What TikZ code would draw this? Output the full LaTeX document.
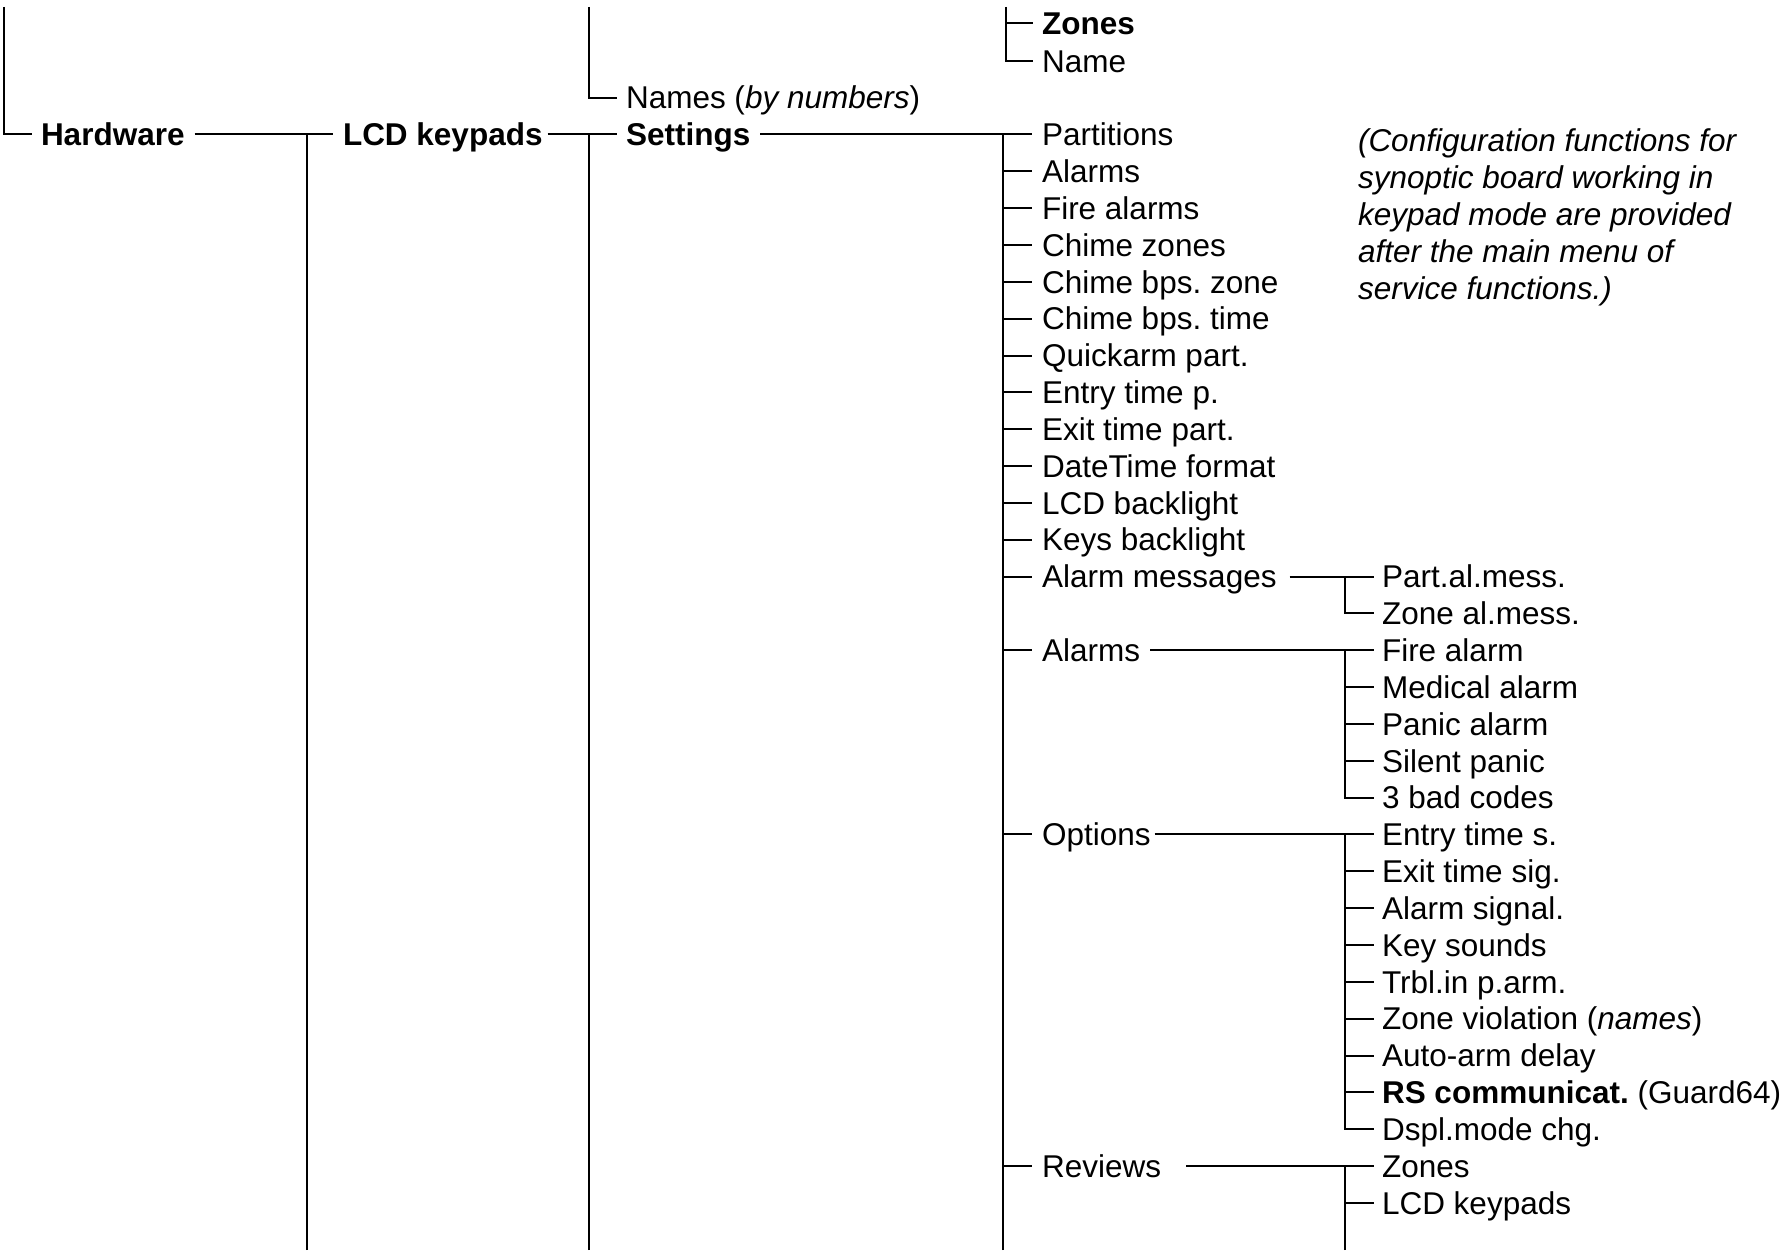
\documentclass[tikz,border=0pt]{standalone}
\usepackage{fontspec}
\setmainfont{Liberation Sans}
\frenchspacing
\begin{document}
\begin{tikzpicture}[x=1pt,y=-1pt,
  lbl/.style={anchor=west,inner sep=0pt,outer sep=0pt,text height=22.5pt,text depth=0pt,font=\fontsize{31.5}{36.84}\selectfont},
  blbl/.style={lbl,font=\fontsize{31.5}{36.84}\selectfont\bfseries},
  nlbl/.style={lbl,font=\fontsize{31.5}{36.84}\selectfont\itshape},
  br/.style={line width=2pt,line join=miter}
]
\useasboundingbox (0,0) rectangle (1791,1252);

% main chain
\node[blbl] (hw) at (41,134.5) {Hardware};
\node[blbl] (lcd) at (343,134.5) {LCD keypads};
\node[blbl] (set) at (626,134.5) {Settings};
\node[lbl] (names) at (626,97.66) {Names (\textit{by numbers})};
\node[blbl] (zones) at (1042,23) {Zones};
\node[lbl] (zname) at (1042,60.8) {Name};

\coordinate (s0) at (3.5,7);
\coordinate (s1) at (307,1250);
\coordinate (s2) at (589,1250);
\coordinate (s2t) at (589,7);
\coordinate (zt) at (1006,7);
\coordinate (s3) at (1003,1250);
\coordinate (s4) at (1345,1250);

\draw[br] (s0) |- ([xshift=-9pt]hw.west);
\draw[br] ([xshift=10pt]hw.east) -- ([xshift=-10pt]lcd.west);
\draw[br] (s1) -- (s1 |- lcd.west);
\draw[br] ([xshift=5pt]lcd.east) -- ([xshift=-9pt]set.west);
\draw[br] (s2) -- (s2 |- set.west);
\draw[br] (s2t) |- ([xshift=-9pt]names.west);
\draw[br] (zt) |- ([xshift=-9pt]zname.west);
\draw[br] (zt |- zones.west) -- ([xshift=-9pt]zones.west);

% Settings children
\foreach \r/\t in {0/Partitions,1/Alarms,2/Fire alarms,3/Chime zones,4/Chime bps. zone,5/Chime bps. time,6/Quickarm part.,7/Entry time p.,8/Exit time part.,9/DateTime format,10/LCD backlight,11/Keys backlight,12/Alarm messages,14/Alarms,19/Options,28/Reviews}
  \node[lbl] (c\r) at (1042,{134.5+36.84*\r}) {\t};

\draw[br] ([xshift=10pt]set.east) -- ([xshift=-10pt]c0.west);
\draw[br] (s3) -- (s3 |- c0.west);
\foreach \r in {1,2,3,4,5,6,7,8,9,10,11,12,14,19,28}
  \draw[br] (s3 |- c\r.west) -- ([xshift=-10pt]c\r.west);

% sub children
\foreach \r/\t in {12/Part.al.mess.,13/Zone al.mess.,14/Fire alarm,15/Medical alarm,16/Panic alarm,17/Silent panic,18/3 bad codes,19/Entry time s.,20/Exit time sig.,21/Alarm signal.,22/Key sounds,23/Trbl.in p.arm.,24/{Zone violation (\textit{names})},25/Auto-arm delay,26/{\textbf{RS communicat.} (Guard64)},27/Dspl.mode chg.,28/Zones,29/LCD keypads}
  \node[lbl] (d\r) at (1382,{134.5+36.84*\r}) {\t};

% Alarm messages
\draw[br] ([xshift=13pt]c12.east) -- ([xshift=-8pt]d12.west);
\draw[br] (s4 |- d12.west) |- ([xshift=-8pt]d13.west);
% Alarms
\draw[br] ([xshift=10pt]c14.east) -- ([xshift=-8pt]d14.west);
\draw[br] (s4 |- d14.west) |- ([xshift=-8pt]d18.west);
\foreach \r in {15,16,17}
  \draw[br] (s4 |- d\r.west) -- ([xshift=-8pt]d\r.west);
% Options
\draw[br] ([xshift=4pt]c19.east) -- ([xshift=-8pt]d19.west);
\draw[br] (s4 |- d19.west) |- ([xshift=-8pt]d27.west);
\foreach \r in {20,21,22,23,24,25,26}
  \draw[br] (s4 |- d\r.west) -- ([xshift=-8pt]d\r.west);
% Reviews
\draw[br] ([xshift=25pt]c28.east) -- ([xshift=-8pt]d28.west);
\draw[br] (s4) -- (s4 |- d28.west);
\draw[br] (s4 |- d29.west) -- ([xshift=-8pt]d29.west);

% note
\node[nlbl] (n1) at (1358,140) {(Configuration functions for};
\node[nlbl] (n2) at (1358,177) {synoptic board working in};
\node[nlbl] (n3) at (1358,214) {keypad mode are provided};
\node[nlbl] (n4) at (1358,251) {after the main menu of};
\node[nlbl] (n5) at (1358,288) {service functions.)};
\end{tikzpicture}
\end{document}
